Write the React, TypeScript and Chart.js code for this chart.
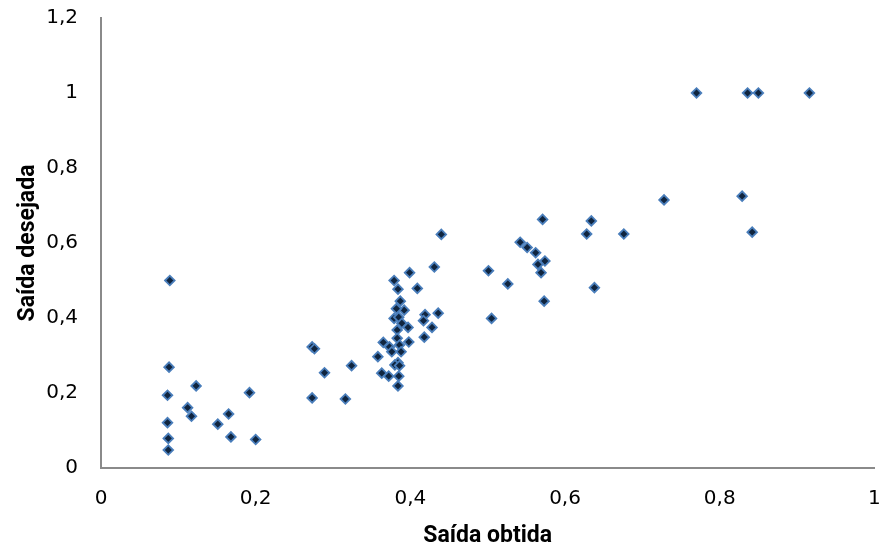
import React, { useEffect, useRef } from "react";
import { Chart, registerables } from "chart.js";

Chart.register(...registerables);

const xValues: number[] = [
  0.089, 0.088, 0.086, 0.123, 0.192, 0.112, 0.117, 0.165, 0.151, 0.086, 0.168, 0.200, 0.087, 0.087,
  0.273, 0.276, 0.289, 0.273, 0.316, 0.324, 0.358, 0.363, 0.372, 0.385, 0.384, 0.365,
  0.379, 0.384, 0.399, 0.409, 0.431, 0.440, 0.387, 0.392, 0.382, 0.436, 0.419, 0.417, 0.428,
  0.379, 0.385, 0.389, 0.397, 0.383, 0.418, 0.383, 0.398, 0.373, 0.386, 0.376, 0.388,
  0.384, 0.380, 0.386,
  0.501, 0.505, 0.526, 0.542, 0.551, 0.562, 0.574, 0.565, 0.569, 0.571, 0.573, 0.628, 0.634, 0.638, 0.676, 0.728,
  0.770, 0.836, 0.850, 0.916, 0.829, 0.842,
];

const yValues: number[] = [
  0.500, 0.269, 0.194, 0.219, 0.201, 0.161, 0.138, 0.144, 0.117, 0.121, 0.083, 0.076, 0.079, 0.048,
  0.323, 0.318, 0.254, 0.187, 0.184, 0.273, 0.297, 0.253, 0.245, 0.245, 0.219, 0.335,
  0.500, 0.477, 0.521, 0.479, 0.536, 0.623, 0.445, 0.421, 0.425, 0.413, 0.409, 0.393, 0.375,
  0.399, 0.402, 0.386, 0.375, 0.368, 0.349, 0.346, 0.336, 0.323, 0.328, 0.310, 0.310,
  0.281, 0.275, 0.273,
  0.526, 0.399, 0.491, 0.602, 0.588, 0.574, 0.552, 0.543, 0.521, 0.663, 0.445, 0.624, 0.659, 0.481, 0.624, 0.715,
  1.0, 1.0, 1.0, 1.0, 0.725, 0.629,
];

const xTitle = "Saída obtida";
const yTitle = "Saída desejada";

const TICK_FONT = "'DejaVu Sans', sans-serif";
const TITLE_FONT = "Roboto, 'DejaVu Sans', sans-serif";
const fmt = (v: number) => String(Math.round(v * 10) / 10).replace(".", ",");

export default function App() {
  const ref = useRef<HTMLCanvasElement | null>(null);

  useEffect(() => {
    document.body.style.margin = "0";
    const canvas = ref.current;
    if (!canvas) return;
    const points = xValues.map((x, i) => ({ x, y: yValues[i] }));
    const chart = new Chart(canvas, {
      type: "scatter",
      data: {
        datasets: [
          {
            data: points,
            pointStyle: "rectRot",
            pointRadius: 4.8,
            pointBorderWidth: 1.8,
            backgroundColor: "#10253f",
            borderColor: "#4a7ebb",
          },
        ],
      },
      options: {
        animation: false,
        responsive: false,
        maintainAspectRatio: false,
        layout: { padding: { top: 18, right: 6, left: 0, bottom: 0 } },
        plugins: { legend: { display: false }, tooltip: { enabled: false } },
        scales: {
          x: {
            type: "linear",
            min: 0,
            max: 1,
            afterFit: (s: any) => {
              s.height = 86;
              s.paddingLeft = 0;
              s.paddingRight = 0;
            },
            grid: { display: false, drawTicks: false },
            border: { display: true, color: "#8a8a8a", width: 2 },
            ticks: {
              stepSize: 0.2,
              padding: 19,
              color: "#000",
              font: { family: TICK_FONT, size: 20 },
              callback: (v: any) => fmt(Number(v)),
            },
            title: {
              display: true,
              text: xTitle,
              color: "#000",
              font: { family: TITLE_FONT, size: 23, weight: "bold" },
              padding: { top: 0, bottom: 4 },
            },
          },
          y: {
            type: "linear",
            min: 0,
            max: 1.2,
            afterFit: (s: any) => {
              s.width = 101;
              s.paddingTop = 0;
              s.paddingBottom = 0;
            },
            grid: { display: false, drawTicks: false },
            border: { display: true, color: "#8a8a8a", width: 2 },
            ticks: {
              stepSize: 0.2,
              padding: 23,
              color: "#000",
              font: { family: TICK_FONT, size: 20 },
              callback: (v: any) => fmt(Number(v)),
            },
            title: {
              display: true,
              text: yTitle,
              color: "#000",
              font: { family: TITLE_FONT, size: 23, weight: "bold" },
              padding: { top: 14, bottom: 0 },
            },
          },
        },
      },
    });
    return () => chart.destroy();
  }, []);

  return (
    <div style={{ position: "absolute", left: 0, top: 0, width: 881, height: 554, background: "#fff" }}>
      <canvas ref={ref} width={881} height={554} style={{ width: 881, height: 554, display: "block" }} />
    </div>
  );
}
